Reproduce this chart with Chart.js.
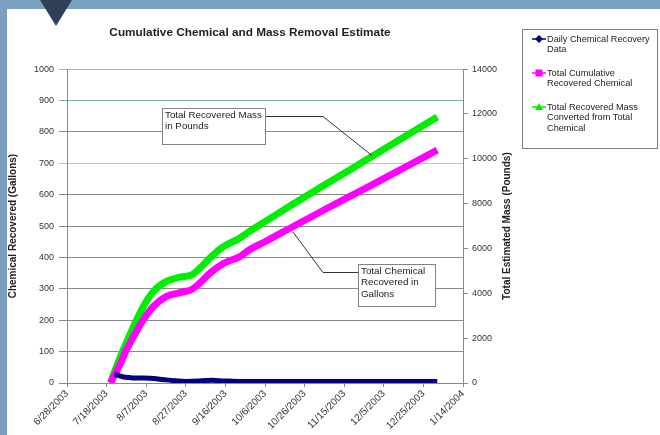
<!DOCTYPE html>
<html>
<head>
<meta charset="utf-8">
<script src="https://cdn.jsdelivr.net/npm/chart.js@4.4.1/dist/chart.umd.min.js"></script>
<style>
  html, body { margin: 0; padding: 0; }
  body { width: 660px; height: 435px; background: #7a9fbf; position: relative; overflow: hidden; }
  #panel { position: absolute; left: 7px; top: 9px; right: 0; bottom: 0; background: #fff; }
  #tri { position: absolute; left: 40px; top: 0; width: 0; height: 0;
         border-left: 16px solid transparent; border-right: 16px solid transparent; border-top: 26px solid #2e3f57; }
  #chart { position: absolute; left: 0; top: 0; }
</style>
</head>
<body>
<div id="panel"></div>
<div id="tri"></div>
<canvas id="chart" width="660" height="435"></canvas>
<script>
// --- data (x = days since 6/28/2003) ---
const dayTicks = [0, 20, 40, 60, 80, 100, 120, 140, 160, 180, 200];
const dateLabels = ['6/28/2003', '7/18/2003', '8/7/2003', '8/27/2003', '9/16/2003', '10/6/2003',
                    '10/26/2003', '11/15/2003', '12/5/2003', '12/25/2003', '1/14/2004'];
const gallonTicks = [0, 100, 200, 300, 400, 500, 600, 700, 800, 900, 1000];
const poundTicks = [0, 2000, 4000, 6000, 8000, 10000, 12000, 14000];

const dailyDays = [24, 26, 28, 32, 36, 42, 46, 50, 55, 60, 66, 70, 73, 77, 82, 90, 110, 130, 150, 170, 187];
const dailyGallons = [28, 24, 20, 17, 16, 15, 13, 10, 7, 5, 6, 8, 9, 7, 6, 5, 5, 5, 5, 5, 5];

const cumDays = [22, 24, 27, 30, 33.5, 38.5, 43.5, 50, 57, 63, 67, 72, 79, 87, 92, 100, 114, 130, 150, 170, 187];
const cumGallons = [0, 25, 63, 105, 147, 201, 243, 275, 288, 298, 318, 349, 381, 402, 424, 450, 498, 552, 618, 685, 742];
const massPounds = [0, 500, 1180, 1800, 2500, 3400, 4070, 4520, 4720, 4820, 5110, 5560, 6080, 6450, 6750, 7200, 7970, 8830, 9890, 10960, 11870];

const FONT = 'Liberation Sans';
const pts = (xs, ys) => xs.map((x, i) => ({ x: x, y: ys[i] }));

// legend + callout boxes drawn on the canvas
const legendItems = [
  { lines: ['Daily Chemical Recovery', 'Data'], color: '#000080', marker: 'diamond', y: 39 },
  { lines: ['Total Cumulative', 'Recovered Chemical'], color: '#ff00ff', marker: 'square', y: 73 },
  { lines: ['Total Recovered Mass', 'Converted from Total', 'Chemical'], color: '#00ee00', marker: 'triangle', y: 107 }
];
const callouts = [
  { lines: ['Total Recovered Mass', 'in Pounds'], box: [162, 108, 103, 36], elbow: [323, 116], from: [265, 116],
    day: 154, value: 10150, axis: 'y1' },
  { lines: ['Total Chemical', 'Recovered in', 'Gallons'], box: [358, 264, 77, 42], elbow: [323, 272], from: [358, 272],
    day: 114, value: 482, axis: 'y' }
];

function drawMarker(ctx, type, x, y, color) {
  ctx.fillStyle = color;
  ctx.beginPath();
  if (type === 'diamond') {
    ctx.moveTo(x, y - 4); ctx.lineTo(x + 4, y); ctx.lineTo(x, y + 4); ctx.lineTo(x - 4, y);
  } else if (type === 'square') {
    ctx.rect(x - 3.5, y - 3.5, 7, 7);
  } else {
    ctx.moveTo(x, y - 4); ctx.lineTo(x + 4, y + 3); ctx.lineTo(x - 4, y + 3);
  }
  ctx.closePath();
  ctx.fill();
}

const extras = {
  id: 'extras',
  afterDraw(chart) {
    const ctx = chart.ctx;
    ctx.save();
    // right axis title
    ctx.font = 'bold 10px ' + FONT;
    ctx.fillStyle = '#222';
    ctx.textAlign = 'center';
    ctx.textBaseline = 'middle';
    ctx.translate(507, (chart.chartArea.top + chart.chartArea.bottom) / 2);
    ctx.rotate(-Math.PI / 2);
    ctx.fillText('Total Estimated Mass (Pounds)', 0, 0);
    ctx.restore();

    // legend
    ctx.save();
    ctx.fillStyle = '#fff';
    ctx.fillRect(522, 29, 135, 119);
    ctx.strokeStyle = '#7f7f7f';
    ctx.lineWidth = 1;
    ctx.strokeRect(522.5, 29.5, 135, 119);
    ctx.font = '9.2px ' + FONT;
    ctx.textAlign = 'left';
    ctx.textBaseline = 'middle';
    legendItems.forEach(it => {
      ctx.strokeStyle = it.color;
      ctx.lineWidth = 1.5;
      ctx.beginPath(); ctx.moveTo(532, it.y); ctx.lineTo(546, it.y); ctx.stroke();
      drawMarker(ctx, it.marker, 539, it.y, it.color);
      ctx.fillStyle = '#222';
      it.lines.forEach((t, i) => ctx.fillText(t, 547, it.y + i * 10.8));
    });

    // callouts
    ctx.font = '9.8px ' + FONT;
    callouts.forEach(c => {
      const tx = chart.scales.x.getPixelForValue(c.day);
      const ty = chart.scales[c.axis].getPixelForValue(c.value);
      ctx.strokeStyle = '#333';
      ctx.lineWidth = 1;
      ctx.beginPath();
      ctx.moveTo(c.from[0], c.from[1] + 0.5);
      ctx.lineTo(c.elbow[0], c.elbow[1] + 0.5);
      ctx.lineTo(tx, ty);
      ctx.stroke();
      ctx.fillStyle = '#fff';
      ctx.fillRect(c.box[0], c.box[1], c.box[2], c.box[3]);
      ctx.strokeStyle = '#8a7f80';
      ctx.strokeRect(c.box[0] + 0.5, c.box[1] + 0.5, c.box[2], c.box[3]);
      ctx.fillStyle = '#222';
      c.lines.forEach((t, i) => ctx.fillText(t, c.box[0] + 3, c.box[1] + 7 + i * 11.5));
    });
    ctx.restore();
  }
};

const gridColor = (v) => v === 700 ? '#e2b4b4' : (v === 900 ? '#7fb0b0' : (v === 1000 ? '#b0b0b0' : '#8a8a8a'));

new Chart(document.getElementById('chart'), {
  type: 'line',
  data: {
    datasets: [
      { label: 'Daily Chemical Recovery Data', data: pts(dailyDays, dailyGallons), yAxisID: 'y',
        borderColor: '#000080', backgroundColor: '#000080', borderWidth: 5, pointRadius: 0,
        cubicInterpolationMode: 'monotone' },
      { label: 'Total Cumulative Recovered Chemical', data: pts(cumDays, cumGallons), yAxisID: 'y',
        borderColor: '#ff00ff', backgroundColor: '#ff00ff', borderWidth: 7, pointRadius: 0,
        cubicInterpolationMode: 'monotone' },
      { label: 'Total Recovered Mass Converted from Total Chemical', data: pts(cumDays, massPounds), yAxisID: 'y1',
        borderColor: '#00ee00', backgroundColor: '#00ee00', borderWidth: 7, pointRadius: 0,
        cubicInterpolationMode: 'monotone' }
    ]
  },
  options: {
    responsive: false,
    animation: false,
    devicePixelRatio: 1,
    layout: { padding: { left: 0, right: 160, top: 0, bottom: 0 } },
    plugins: {
      legend: { display: false },
      tooltip: { enabled: false },
      title: { display: true, text: 'Cumulative Chemical and Mass Removal Estimate', color: '#222',
               font: { family: FONT, size: 11.8, weight: 'bold' }, padding: { top: 26, bottom: 29 } }
    },
    scales: {
      x: {
        type: 'linear', min: 0, max: 200,
        afterBuildTicks: s => { s.ticks = dayTicks.map(v => ({ value: v })); },
        afterFit: s => { s.height = 52; },
        ticks: { autoSkip: false, minRotation: 45, maxRotation: 45, padding: 1, color: '#333',
                 font: { family: FONT, size: 10 }, callback: (v, i) => dateLabels[i] },
        grid: { drawOnChartArea: false, tickLength: 4, color: '#8a8a8a' },
        border: { color: '#8a8a8a' }
      },
      y: {
        position: 'left', min: 0, max: 1000,
        afterBuildTicks: s => { s.ticks = gallonTicks.map(v => ({ value: v })); },
        afterFit: s => { s.width = 67; },
        ticks: { padding: 5, color: '#333', font: { family: FONT, size: 9 }, callback: v => String(v) },
        grid: { tickLength: 8, color: ctx => gridColor(ctx.tick ? ctx.tick.value : 0) },
        border: { color: '#8a8a8a' },
        title: { display: true, text: 'Chemical Recovered (Gallons)', color: '#222',
                 font: { family: FONT, size: 10, weight: 'bold' }, padding: { top: 7, bottom: 0 } }
      },
      y1: {
        position: 'right', min: 0, max: 14000,
        afterBuildTicks: s => { s.ticks = poundTicks.map(v => ({ value: v })); },
        afterFit: s => { s.width = 37; },
        ticks: { padding: 4, color: '#333', font: { family: FONT, size: 9 }, callback: v => String(v) },
        grid: { drawOnChartArea: false, tickLength: 5, color: '#8a8a8a' },
        border: { color: '#8a8a8a' }
      }
    }
  },
  plugins: [extras]
});
</script>
</body>
</html>
